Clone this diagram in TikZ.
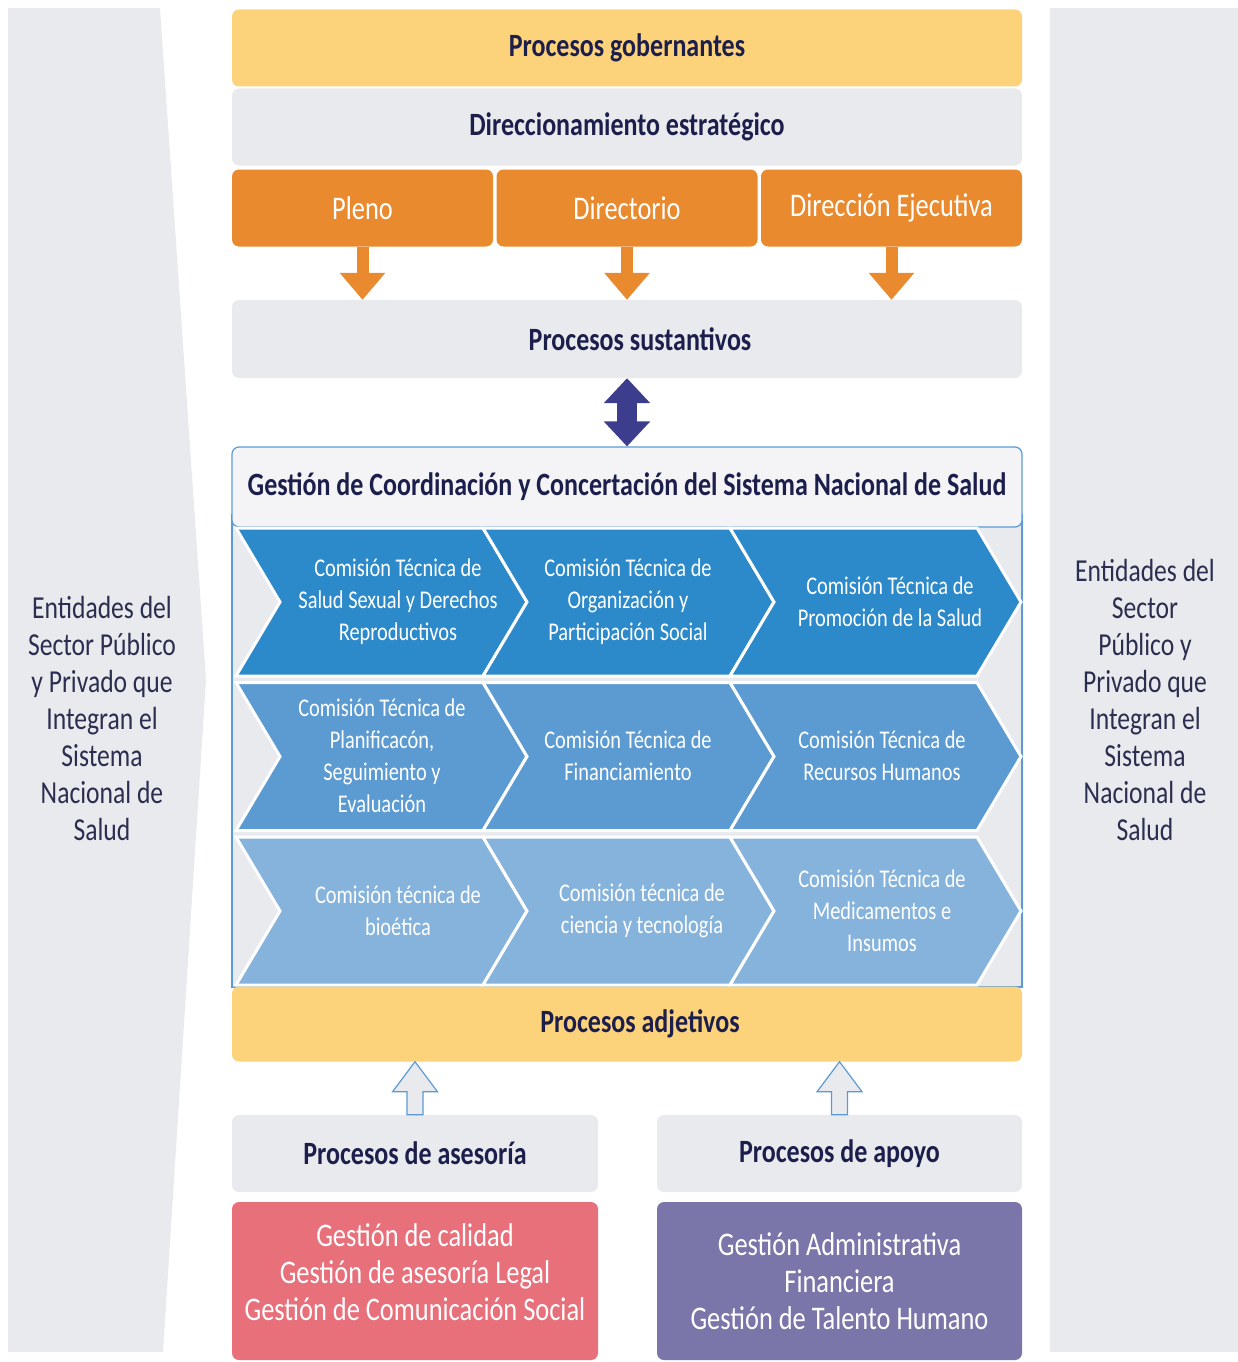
\documentclass[tikz,border=0pt]{standalone}
\usepackage{fontspec}
\setmainfont{Carlito}[FakeStretch=0.8]
\usepackage{tikz}
\usetikzlibrary{arrows.meta,calc}

\definecolor{amarillo}{HTML}{FCD27B}
\definecolor{gris}{HTML}{E9EAEE}
\definecolor{naranja}{HTML}{E98A2F}
\definecolor{azulosc}{HTML}{3C3E8D}
\definecolor{marino}{HTML}{1C1E4C}
\definecolor{lateral}{HTML}{2B2E4E}
\definecolor{filaA}{HTML}{2C8ACB}
\definecolor{filaB}{HTML}{5C9BD2}
\definecolor{filaC}{HTML}{86B3DC}
\definecolor{borde}{HTML}{5B9BD5}
\definecolor{rosa}{HTML}{E8707B}
\definecolor{morado}{HTML}{7A76A9}

\begin{document}
\begin{tikzpicture}[x=1pt,y=-1pt,
  caja/.style={rounded corners=7pt, inner sep=0pt, minimum height=77pt, text=marino,
    font=\bfseries\fontsize{32.5}{38}\selectfont},
  ancha/.style={caja, minimum width=790pt},
  organo/.style={caja, fill=naranja, minimum width=261pt, text=white,
    font=\fontsize{33}{40}\selectfont},
  gestion/.style={rounded corners=7pt, inner sep=0pt, minimum width=366pt, minimum height=158pt,
    text=white, align=center, font=\fontsize{33}{37}\selectfont},
  chevtxt/.style={text=white, align=center, font=\fontsize{25.5}{32}\selectfont},
  lado/.style={text=lateral, align=center, font=\fontsize{32}{37}\selectfont},
  bajada/.style={line width=12pt, naranja, -{Triangle[width=44pt,length=27pt]}},
  doble/.style={line width=20pt, azulosc,
    {Triangle[width=45pt,length=25pt]}-{Triangle[width=45pt,length=25pt]}},
  hueca/.style={fill=gris, draw=borde, line width=1.2pt},
]
\useasboundingbox (0,0) rectangle (1238,1362);

% paneles laterales
\fill[gris] (8,8) -- (160,8) -- (206,680) -- (163,1352) -- (8,1352) -- cycle;
\fill[gris] (1050,8) rectangle (1238,1352);
\node[lado] (izq) at (102,718) {Entidades del\\Sector Público\\y Privado que\\Integran el\\Sistema\\Nacional de\\Salud};
\node[lado] (der) at (1145,700) {Entidades del\\Sector\\Público y\\Privado que\\Integran el\\Sistema\\Nacional de\\Salud};

% procesos gobernantes
\node[ancha, fill=amarillo] (gob) at (627,48) {Procesos gobernantes};
\node[ancha, fill=gris] (dir) at (627,127) {Direccionamiento estratégico};
\node[organo] (pleno) at (362.5,208) {Pleno};
\node[organo] (directorio) at (627,208) {Directorio};
\node[organo] (ejec) at (891.5,208) {Dirección Ejecutiva};

\node[ancha, fill=gris, minimum height=78pt] (sust) at (627,339) {\hspace*{26pt}Procesos sustantivos};
\draw[bajada] (pleno.south) -- (pleno.south |- sust.north);
\draw[bajada] (directorio.south) -- (directorio.south |- sust.north);
\draw[bajada] (ejec.south) -- (ejec.south |- sust.north);

% sistema nacional
\draw[borde, line width=1.2pt, fill=gris] (232,515) rectangle (1022,987);
\node[ancha, draw=borde, line width=1.2pt, fill=gris!50!white, minimum height=80pt] (coord) at (627,487)
  {Gestión de Coordinación y Concertación del Sistema Nacional de Salud};
\draw[doble] (sust.south) -- (coord.north);

\foreach \r/\col in {0/filaA,1/filaB,2/filaC}
  \foreach \c in {0,1,2}
    \fill[\col, draw=white, line width=3pt] ({236+247*\c},{528+154.5*\r}) -- ++(247,0) -- ++(44,74)
      -- ++(-44,74) -- ++(-247,0) -- ++(44,-74) -- cycle;

\foreach \n/\x/\y/\txt in {
    ca/398/602/{Comisión Técnica de\\Salud Sexual y Derechos\\Reproductivos},
    cb/628/602/{Comisión Técnica de\\Organización y\\Participación Social},
    cc/890/602/{Comisión Técnica de\\Promoción de la Salud},
    cd/382/756/{Comisión Técnica de\\Planificacón,\\Seguimiento y\\Evaluación},
    ce/628/756/{Comisión Técnica de\\Financiamiento},
    cf/882/756/{Comisión Técnica de\\Recursos Humanos},
    cg/398/911/{Comisión técnica de\\bioética},
    ch/642/911/{Comisión técnica de\\ciencia y tecnología},
    ci/882/911/{Comisión Técnica de\\Medicamentos e\\Insumos}}
  \node[chevtxt] (\n) at (\x,\y) {\txt};

% procesos adjetivos
\node[ancha, fill=amarillo, minimum height=75pt] (adj) at (627,1024) {\hspace*{26pt}Procesos adjetivos};
\node[caja, fill=gris, minimum width=366pt] (ases) at (415,1153.5) {Procesos de asesoría};
\node[caja, fill=gris, minimum width=365pt] (apoyo) at (839.5,1153.5) {Procesos de apoyo};
\node[gestion, fill=rosa, text depth=18pt] (calidad) at (415,1281) {Gestión de calidad\\Gestión de asesoría Legal\\Gestión de Comunicación Social};
\node[gestion, fill=morado, minimum width=365pt] (admin) at (839.5,1281) {Gestión Administrativa\\Financiera\\Gestión de Talento Humano};

\draw[hueca] ($(ases.north)+(-8,0)$) -- ++(0,-23) -- ++(-14.5,0) -- (ases.north |- adj.south)
  -- ++(22.5,30) -- ++(-14.5,0) -- ($(ases.north)+(8,0)$) -- cycle;
\draw[hueca] ($(apoyo.north)+(-8,0)$) -- ++(0,-23) -- ++(-14.5,0) -- (apoyo.north |- adj.south)
  -- ++(22.5,30) -- ++(-14.5,0) -- ($(apoyo.north)+(8,0)$) -- cycle;
\end{tikzpicture}
\end{document}
